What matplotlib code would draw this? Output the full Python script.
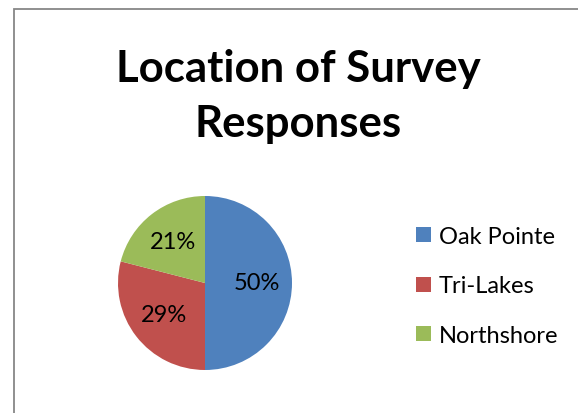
import matplotlib
matplotlib.use("Agg")
import matplotlib.pyplot as plt
from matplotlib.patches import Rectangle, Patch

plt.rcParams['font.family'] = ['Lato', 'DejaVu Sans']

# data
locations = ['Oak Pointe', 'Tri-Lakes', 'Northshore']
shares = [50, 29, 21]
colors = ['#4F81BD', '#C0504D', '#9BBB59']

W, H = 578, 414
fig = plt.figure(figsize=(W / 100, H / 100), dpi=100)

# chart border (only top and left visible in the crop)
fig.patches.append(Rectangle((14 / W, -0.2), 2, 1.2 - 10 / H, transform=fig.transFigure,
                             facecolor='none', edgecolor='#878787', linewidth=1.3))

fig.text(298 / W, 1 - 82 / H, 'Location of Survey', ha='center', va='baseline',
         fontsize=31.5, fontweight='bold')
fig.text(298 / W, 1 - 137 / H, 'Responses', ha='center', va='baseline',
         fontsize=31.5, fontweight='bold')

cx, cy, r = 205, 284, 87
ax = fig.add_axes([(cx - r) / W, (H - cy - r) / H, 2 * r / W, 2 * r / H])
ax.pie(shares, colors=colors, startangle=90, counterclock=False,
       autopct='%d%%', pctdistance=0.6,
       textprops={'fontsize': 17, 'color': 'black'})
ax.set_xlim(-1, 1)
ax.set_ylim(-1, 1)
ax.set_aspect('equal')
ax.axis('off')

handles = [Patch(facecolor=c, edgecolor='none') for c in colors]
fig.legend(handles, locations, loc='center left', bbox_to_anchor=(407 / W, 1 - 287 / H),
           frameon=False, fontsize=17, handlelength=0.6, handleheight=0.6,
           handletextpad=0.35, labelspacing=1.2, borderaxespad=0)

fig.savefig('out.png', dpi=100)
